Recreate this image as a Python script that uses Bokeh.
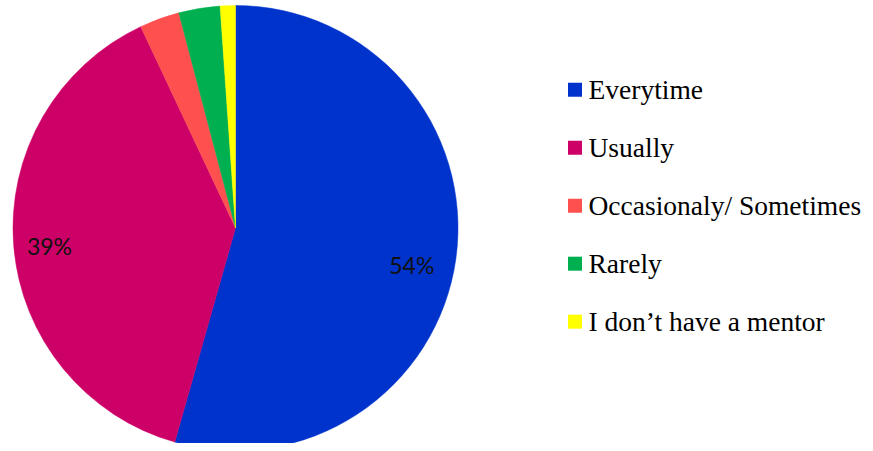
import math
from bokeh.plotting import figure
from bokeh.models import ColumnDataSource, Range1d
from bokeh.core.properties import value
from bokeh.embed import file_html
from bokeh.resources import INLINE

# ---- data ----
categories = ["Everytime", "Usually", "Occasionaly/ Sometimes", "Rarely", "I don\u2019t have a mentor"]
shares = [54.4, 38.6, 2.9, 3.0, 1.1]
label_texts = ["54%", "39%", "", "", ""]

# ---- styling ----
colors = ["#0033CC", "#CC0066", "#FF5050", "#00B050", "#FFFF00"]
W, H = 865, 443
CX, CY, R = 235, H - 227.5, 222.5
# label placement: (clockwise angle from top in degrees, radius fraction)
label_place = [(102.0, 0.81), (264.4, 0.84), None, None, None]

total = sum(shares)
starts, ends = [], []
cum = 0.0
for s in shares:
    a0 = math.pi / 2 - 2 * math.pi * (cum + s) / total
    a1 = math.pi / 2 - 2 * math.pi * cum / total
    starts.append(a0)
    ends.append(a1)
    cum += s

p = figure(width=W, height=H, output_backend="svg", toolbar_location=None,
           x_range=Range1d(0, W), y_range=Range1d(0, H), min_border=0)
p.axis.visible = False
p.grid.visible = False
p.outline_line_color = None
p.background_fill_color = "white"
p.border_fill_color = "white"

src = ColumnDataSource(dict(x=[CX] * len(shares), y=[CY] * len(shares),
                            start=starts, end=ends, color=colors))
p.wedge(x="x", y="y", radius=R, start_angle="start", end_angle="end",
        fill_color="color", line_color="color", line_width=0.5, source=src)

lx, ly, lt = [], [], []
for t, pl in zip(label_texts, label_place):
    if t and pl:
        ang = math.radians(pl[0])
        lx.append(CX + R * pl[1] * math.sin(ang))
        ly.append(CY + R * pl[1] * math.cos(ang))
        lt.append(t)
p.text(x=lx, y=ly, text=lt, text_font=value("Lato"), text_font_size="23px",
       text_color="#111111", text_align="center", text_baseline="middle")

# legend
leg_x_sq = 574.5
leg_x_txt = 588
leg_y0 = H - 89.2
leg_dy = 58
ys = [leg_y0 - i * leg_dy for i in range(len(categories))]
p.rect(x=[leg_x_sq] * len(categories), y=ys, width=14, height=14,
       fill_color=colors, line_color=None)
p.text(x=[leg_x_txt] * len(categories), y=ys, text=categories,
       text_font=value("serif"),
       text_font_size="27.5px",
       text_color="#000000", text_align="left", text_baseline="middle")

open("out.html", "w").write(file_html(p, INLINE))
